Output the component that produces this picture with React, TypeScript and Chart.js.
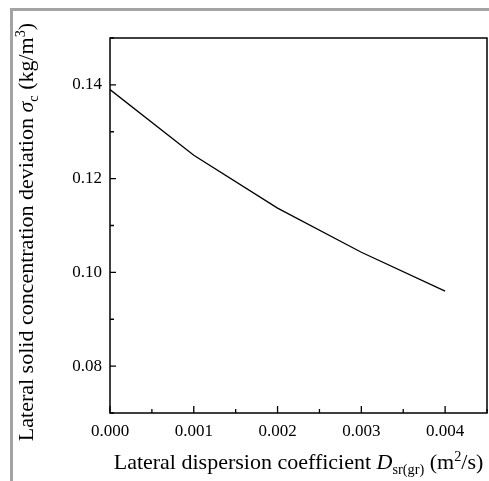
import React, { useEffect, useRef } from "react";
import { Chart, registerables } from "chart.js";

Chart.register(...registerables);

const xValues = [0, 0.001, 0.002, 0.003, 0.004];
const yValues = [0.139, 0.125, 0.1137, 0.1043, 0.096];

const X_MIN = 0;
const X_MAX = 0.0045;
const X_STEP = 0.0005;
const Y_MIN = 0.07;
const Y_MAX = 0.15;
const Y_STEP = 0.01;

type Seg = { t: string; it?: boolean; sub?: boolean; sup?: boolean };

const xTitle: Seg[] = [
  { t: "Lateral dispersion coefficient " },
  { t: "D", it: true },
  { t: "sr(gr)", sub: true },
  { t: " (m" },
  { t: "2", sup: true },
  { t: "/s)" },
];
const yTitle: Seg[] = [
  { t: "Lateral solid concentration deviation " },
  { t: "σ", it: true },
  { t: "c", sub: true },
  { t: " (kg/m" },
  { t: "3", sup: true },
  { t: ")" },
];

const FONT = "'Liberation Serif', 'DejaVu Serif', serif";
const TITLE_SIZE = 22;

function segFont(s: Seg, size: number) {
  const sz = s.sub || s.sup ? size * 0.65 : size;
  return `${s.it ? "italic " : ""}${sz}px ${FONT}`;
}

function drawRich(ctx: CanvasRenderingContext2D, segs: Seg[], size: number) {
  let total = 0;
  const widths = segs.map((s) => {
    ctx.font = segFont(s, size);
    const w = ctx.measureText(s.t).width;
    total += w;
    return w;
  });
  let x = -total / 2;
  ctx.textAlign = "left";
  ctx.textBaseline = "alphabetic";
  segs.forEach((s, i) => {
    ctx.font = segFont(s, size);
    let dy = 0;
    if (s.sub) dy = size * 0.22;
    if (s.sup) dy = -size * 0.38;
    ctx.fillText(s.t, x, dy);
    x += widths[i];
  });
}

function isMajor(v: number, step: number) {
  const r = v / step;
  return Math.abs(r - Math.round(r)) < 1e-6;
}

const framePlugin = {
  id: "framePlugin",
  afterDraw(chart: any) {
    const ctx: CanvasRenderingContext2D = chart.ctx;
    const a = chart.chartArea;
    const xs = chart.scales.x;
    const ys = chart.scales.y;
    ctx.save();
    ctx.strokeStyle = "#000";
    ctx.lineWidth = 1.5;
    ctx.strokeRect(a.left, a.top, a.right - a.left, a.bottom - a.top);
    ctx.lineWidth = 1.3;
    ctx.beginPath();
    xs.ticks.forEach((t: any) => {
      const px = xs.getPixelForValue(t.value);
      const len = isMajor(t.value, 0.001) ? 7 : 4;
      ctx.moveTo(px, a.bottom);
      ctx.lineTo(px, a.bottom - len);
    });
    ys.ticks.forEach((t: any) => {
      const py = ys.getPixelForValue(t.value);
      const len = isMajor(t.value, 0.02) ? 6 : 4;
      ctx.moveTo(a.left, py);
      ctx.lineTo(a.left + len, py);
    });
    ctx.stroke();

    ctx.fillStyle = "#000";
    ctx.save();
    ctx.translate((a.left + a.right) / 2, 469);
    drawRich(ctx, xTitle, TITLE_SIZE);
    ctx.restore();

    ctx.save();
    ctx.translate(33, 232);
    ctx.rotate(-Math.PI / 2);
    drawRich(ctx, yTitle, TITLE_SIZE);
    ctx.restore();
    ctx.restore();
  },
};

export default function App() {
  const ref = useRef<HTMLCanvasElement | null>(null);
  useEffect(() => {
    if (!ref.current) return;
    const data = xValues.map((x, i) => ({ x, y: yValues[i] }));
    const chart = new Chart(ref.current, {
      type: "line",
      data: {
        datasets: [
          {
            data,
            borderColor: "#000",
            borderWidth: 1.3,
            pointRadius: 0,
            fill: false,
            tension: 0,
          },
        ],
      },
      options: {
        animation: false,
        responsive: false,
        devicePixelRatio: 1,
        layout: { padding: { left: 0, right: 2, top: 38, bottom: 0 } },
        plugins: {
          legend: { display: false },
          tooltip: { enabled: false },
        },
        scales: {
          x: {
            type: "linear",
            min: X_MIN,
            max: X_MAX,
            grid: { display: false, drawTicks: false },
            border: { display: false },
            afterFit: (s: any) => {
              s.height = 68;
              s.paddingLeft = 0;
              s.paddingRight = 0;
            },
            ticks: {
              stepSize: X_STEP,
              autoSkip: false,
              maxRotation: 0,
              padding: 8,
              color: "#000",
              font: { family: FONT, size: 17 },
              callback: (v: any) => {
                const n = Number(v);
                return isMajor(n, 0.001) && n <= 0.0041 ? n.toFixed(3) : "";
              },
            },
          },
          y: {
            type: "linear",
            min: Y_MIN,
            max: Y_MAX,
            grid: { display: false, drawTicks: false },
            border: { display: false },
            afterFit: (s: any) => {
              s.width = 110;
              s.paddingTop = 0;
              s.paddingBottom = 0;
            },
            ticks: {
              stepSize: Y_STEP,
              autoSkip: false,
              padding: 8,
              color: "#000",
              font: { family: FONT, size: 17 },
              callback: (v: any) => {
                const n = Number(v);
                return isMajor(n, 0.02) && n > 0.075 && n < 0.145 ? n.toFixed(2) : "";
              },
            },
          },
        },
      },
      plugins: [framePlugin],
    } as any);
    return () => chart.destroy();
  }, []);

  return (
    <div style={{ position: "fixed", left: 0, top: 0, width: 489, height: 481, background: "#fff", overflow: "hidden" }}>
      <div
        style={{
          position: "absolute",
          left: 10,
          top: 8,
          right: 0,
          bottom: 0,
          borderTop: "3px solid #a3a3a3",
          borderLeft: "3px solid #a3a3a3",
        }}
      />
      <canvas ref={ref} width={489} height={481} style={{ position: "absolute", left: 0, top: 0, width: 489, height: 481 }} />
    </div>
  );
}
